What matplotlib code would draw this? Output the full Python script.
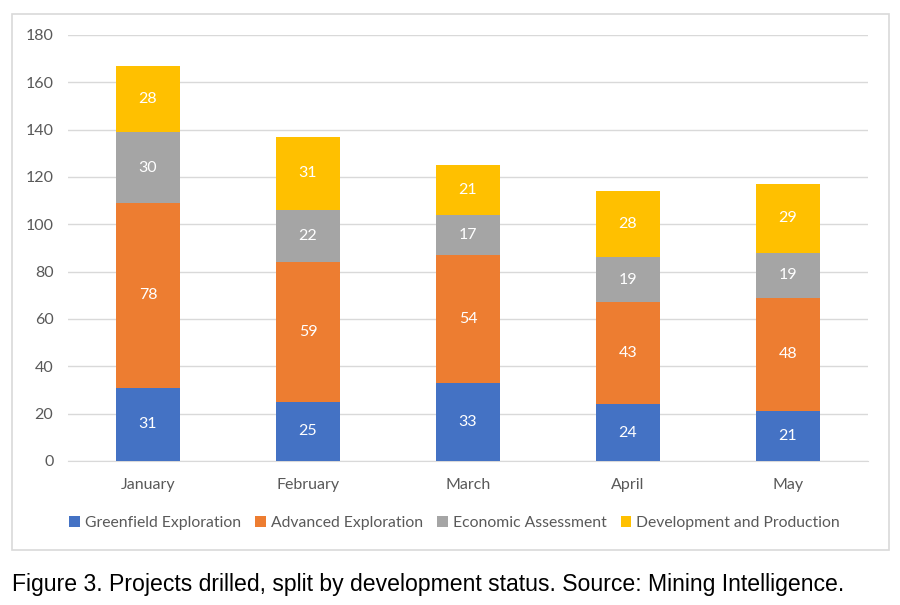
import numpy as np
import matplotlib.pyplot as plt
from matplotlib.patches import Rectangle

months = ['January', 'February', 'March', 'April', 'May']
greenfield = [31, 25, 33, 24, 21]
advanced = [78, 59, 54, 43, 48]
economic = [30, 22, 17, 19, 19]
development = [28, 31, 21, 28, 29]

series = [
    ('Greenfield Exploration', greenfield, '#4472C4'),
    ('Advanced Exploration', advanced, '#ED7D31'),
    ('Economic Assessment', economic, '#A5A5A5'),
    ('Development and Production', development, '#FFC000'),
]

plt.rcParams['font.family'] = ['Lato', 'DejaVu Sans']
txt = '#595959'

fig = plt.figure(figsize=(9, 6.05), dpi=100)
fig.patches.append(Rectangle((12 / 900, 1 - 550 / 605), 877 / 900, 536 / 605,
                             transform=fig.transFigure, fill=False,
                             edgecolor='#D9D9D9', linewidth=1.2))
ax = fig.add_axes([68 / 900, 1 - 461 / 605, 800 / 900, 426 / 605])

x = np.arange(len(months))
bottom = np.zeros(len(months))
for name, vals, col in series:
    vals = np.array(vals)
    bars = ax.bar(x, vals, 0.4, bottom=bottom, color=col, label=name, zorder=3)
    for xi, b, v in zip(x, bottom, vals):
        ax.text(xi, b + v / 2, str(v), ha='center', va='center',
                color='white', fontsize=11.5, zorder=4)
    bottom += vals

ax.set_xlim(-0.5, 4.5)
ax.set_ylim(0, 180)
ax.set_yticks(range(0, 181, 20))
ax.set_xticks(x)
ax.set_xticklabels(months)
ax.yaxis.grid(True, color='#D9D9D9', linewidth=1, zorder=0)
for s in ['top', 'right', 'left']:
    ax.spines[s].set_visible(False)
ax.spines['bottom'].set_color('#D9D9D9')
ax.tick_params(axis='both', length=0, colors=txt, labelsize=11.5)
ax.tick_params(axis='y', pad=10.5)
ax.tick_params(axis='x', pad=12.5)

leg = ax.legend(loc='center', bbox_to_anchor=((454.5 - 68) / 800, (461 - 523) / 426), ncol=4,
                frameon=False, fontsize=11.3, handlelength=0.7, handleheight=0.7,
                handletextpad=0.3, columnspacing=0.9)
for t in leg.get_texts():
    t.set_color(txt)

fig.text(12 / 900, 1 - 584 / 605,
         'Figure 3. Projects drilled, split by development status. Source: Mining Intelligence.',
         fontsize=16.6, family='Liberation Sans', va='center', ha='left', color='black')

fig.savefig('out.png', dpi=100)
